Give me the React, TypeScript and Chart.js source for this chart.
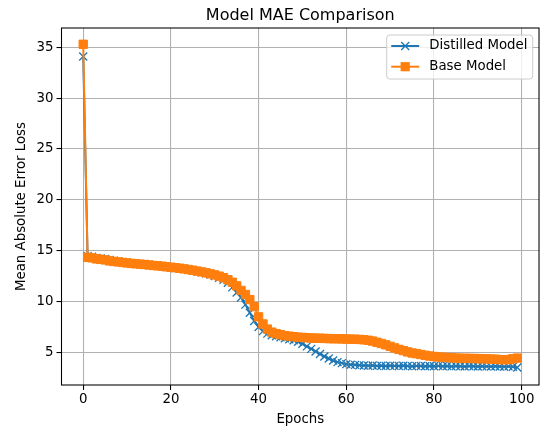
import React, { useEffect, useRef } from "react";
import { Chart, registerables } from "chart.js";

Chart.register(...registerables);

const epochs: number[] = Array.from({ length: 100 }, (_, i) => i);

const distilledMAE: number[] = [
  34.1, 14.45, 14.4, 14.3, 14.25, 14.18, 14.1, 14.02, 13.95, 13.88,
  13.82, 13.77, 13.73, 13.69, 13.66, 13.61, 13.56, 13.52, 13.47, 13.42,
  13.37, 13.32, 13.27, 13.2, 13.13, 13.05, 12.97, 12.88, 12.78, 12.66,
  12.52, 12.35, 12.15, 11.85, 11.4, 10.9, 10.4, 9.7, 8.9, 8.1,
  7.5, 7.1, 6.85, 6.7, 6.6, 6.5, 6.4, 6.3, 6.2, 6.05,
  5.85, 5.6, 5.35, 5.1, 4.85, 4.6, 4.4, 4.2, 4.05, 3.95,
  3.85, 3.8, 3.78, 3.75, 3.72, 3.7, 3.72, 3.68, 3.7, 3.66,
  3.7, 3.68, 3.66, 3.7, 3.67, 3.65, 3.68, 3.66, 3.64, 3.67,
  3.65, 3.68, 3.64, 3.66, 3.63, 3.67, 3.65, 3.62, 3.66, 3.64,
  3.62, 3.65, 3.63, 3.61, 3.64, 3.62, 3.6, 3.63, 3.6, 3.52,
];

const baseMAE: number[] = [
  35.3, 14.35, 14.3, 14.2, 14.15, 14.1, 14.0, 13.95, 13.9, 13.85,
  13.8, 13.75, 13.72, 13.68, 13.65, 13.6, 13.55, 13.52, 13.48, 13.42,
  13.38, 13.33, 13.28, 13.22, 13.15, 13.08, 13.0, 12.92, 12.83, 12.73,
  12.62, 12.5, 12.35, 12.15, 11.9, 11.55, 11.1, 10.7, 10.2, 9.5,
  8.5, 7.8, 7.3, 7.0, 6.85, 6.75, 6.65, 6.6, 6.55, 6.5,
  6.48, 6.45, 6.42, 6.4, 6.4, 6.38, 6.36, 6.35, 6.35, 6.33,
  6.32, 6.3, 6.3, 6.28, 6.25, 6.2, 6.12, 6.0, 5.88, 5.75,
  5.6, 5.45, 5.3, 5.18, 5.05, 4.95, 4.88, 4.8, 4.72, 4.65,
  4.6, 4.55, 4.52, 4.5, 4.48, 4.45, 4.43, 4.42, 4.42, 4.4,
  4.4, 4.38, 4.37, 4.35, 4.33, 4.3, 4.28, 4.3, 4.38, 4.45,
];

const xTicks: number[] = [0, 20, 40, 60, 80, 100];
const yTicks: number[] = [5, 10, 15, 20, 25, 30, 35];

const seriesLabels = ["Distilled Model", "Base Model"];
const colors = ["#1f77b4", "#ff7f0e"];
const FONT = "'DejaVu Sans', sans-serif";

const framePlugin = {
  id: "frameTitleLegend",
  afterDraw(chart: any) {
    const { ctx, chartArea } = chart;
    const { left, right, top, bottom } = chartArea;
    ctx.save();
    ctx.strokeStyle = "#000";
    ctx.lineWidth = 1.07;
    ctx.strokeRect(left, top, right - left, bottom - top);
    ctx.fillStyle = "#000";
    ctx.font = `16px ${FONT}`;
    ctx.textAlign = "center";
    ctx.textBaseline = "middle";
    ctx.fillText("Model MAE Comparison", (left + right) / 2, 15.5);
    const bx = right - 152.3;
    const by = top + 7;
    const bw = 146;
    const bh = 44;
    const r = 3;
    ctx.beginPath();
    ctx.moveTo(bx + r, by);
    ctx.lineTo(bx + bw - r, by);
    ctx.arcTo(bx + bw, by, bx + bw, by + r, r);
    ctx.lineTo(bx + bw, by + bh - r);
    ctx.arcTo(bx + bw, by + bh, bx + bw - r, by + bh, r);
    ctx.lineTo(bx + r, by + bh);
    ctx.arcTo(bx, by + bh, bx, by + bh - r, r);
    ctx.lineTo(bx, by + r);
    ctx.arcTo(bx, by, bx + r, by, r);
    ctx.closePath();
    ctx.fillStyle = "rgba(255,255,255,0.8)";
    ctx.fill();
    ctx.strokeStyle = "#cccccc";
    ctx.lineWidth = 1;
    ctx.stroke();
    const rows = [by + 11, by + 31.7];
    rows.forEach((yy, i) => {
      const x0 = bx + 4.5;
      const x1 = bx + 32.5;
      ctx.strokeStyle = colors[i];
      ctx.lineWidth = 2;
      ctx.beginPath();
      ctx.moveTo(x0, yy);
      ctx.lineTo(x1, yy);
      ctx.stroke();
      const cx = (x0 + x1) / 2;
      if (i === 0) {
        ctx.lineWidth = 1.33;
        ctx.beginPath();
        ctx.moveTo(cx - 4, yy - 4);
        ctx.lineTo(cx + 4, yy + 4);
        ctx.moveTo(cx - 4, yy + 4);
        ctx.lineTo(cx + 4, yy - 4);
        ctx.stroke();
      } else {
        ctx.fillStyle = colors[i];
        ctx.fillRect(cx - 4.6, yy - 4.6, 9.2, 9.2);
      }
      ctx.fillStyle = "#000";
      ctx.font = `13.33px ${FONT}`;
      ctx.textAlign = "left";
      ctx.textBaseline = "middle";
      ctx.fillText(seriesLabels[i], bx + 42.6, yy);
    });
    ctx.restore();
  },
};

export default function App() {
  const ref = useRef<HTMLCanvasElement | null>(null);
  useEffect(() => {
    if (!ref.current) return;
    const mk = (vals: number[]) => epochs.map((e, i) => ({ x: e, y: vals[i] }));
    const chart = new Chart(ref.current, {
      type: "line",
      data: {
        datasets: [
          {
            label: seriesLabels[0],
            data: mk(distilledMAE),
            borderColor: colors[0],
            backgroundColor: colors[0],
            borderWidth: 2,
            pointStyle: "crossRot",
            pointRadius: 5.66,
            pointBorderWidth: 1.33,
            pointBorderColor: colors[0],
            order: 1,
            tension: 0,
          },
          {
            label: seriesLabels[1],
            data: mk(baseMAE),
            borderColor: colors[1],
            backgroundColor: colors[1],
            borderWidth: 2,
            pointStyle: "rect",
            pointRadius: 5.9,
            pointBorderWidth: 1,
            pointBorderColor: colors[1],
            order: 0,
            tension: 0,
          },
        ],
      },
      options: {
        animation: false,
        responsive: false,
        layout: { padding: { left: 0, right: 2, top: 28, bottom: 0 } },
        plugins: {
          legend: { display: false },
          title: { display: false },
          tooltip: { enabled: false },
        },
        scales: {
          x: {
            type: "linear",
            min: -4.95,
            max: 103.95,
            afterBuildTicks: (s: any) => {
              s.ticks = xTicks.map((v) => ({ value: v }));
            },
            afterFit: (s: any) => {
              s.height = 43;
              s.paddingLeft = 0;
              s.paddingRight = 0;
            },
            grid: {
              color: "#b0b0b0",
              lineWidth: 1.07,
              tickColor: "#000",
              tickLength: 5,
              drawOnChartArea: true,
            },
            border: { display: false },
            ticks: {
              color: "#000",
              font: { family: FONT, size: 13.33 },
              padding: 2,
              maxRotation: 0,
            },
            title: {
              display: true,
              text: "Epochs",
              color: "#000",
              font: { family: FONT, size: 13.33 },
              padding: { top: 0, bottom: 0 },
            },
          },
          y: {
            type: "linear",
            min: 1.8,
            max: 36.9,
            afterBuildTicks: (s: any) => {
              s.ticks = yTicks.map((v) => ({ value: v }));
            },
            afterFit: (s: any) => {
              s.width = 61.5;
              s.paddingTop = 0;
              s.paddingBottom = 0;
            },
            grid: {
              color: "#b0b0b0",
              lineWidth: 1.07,
              tickColor: "#000",
              tickLength: 5,
            },
            border: { display: false },
            ticks: {
              color: "#000",
              font: { family: FONT, size: 13.33 },
              padding: 3,
            },
            title: {
              display: true,
              text: "Mean Absolute Error Loss",
              color: "#000",
              font: { family: FONT, size: 13.33 },
              padding: { top: 14, bottom: 0 },
            },
          },
        },
      },
      plugins: [framePlugin],
    } as any);
    return () => chart.destroy();
  }, []);
  return (
    <div style={{ position: "fixed", left: 0, top: 0, width: 540, height: 428, overflow: "hidden", background: "#fff" }}>
      <canvas ref={ref} width={546} height={428} style={{ width: 546, height: 428, display: "block" }} />
    </div>
  );
}
